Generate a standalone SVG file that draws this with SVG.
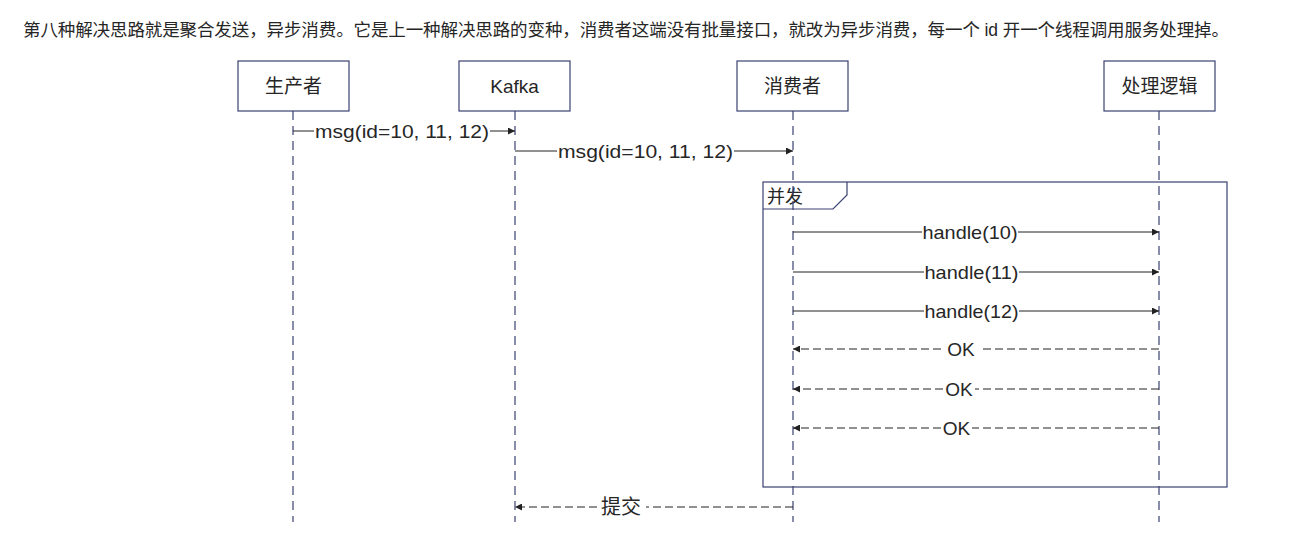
<svg xmlns="http://www.w3.org/2000/svg" width="1290" height="534" viewBox="0 0 1290 534">
<style>
.t{font-family:"Liberation Sans","Noto Sans CJK SC",sans-serif;fill:#262626;}
.box{fill:#fff;stroke:#3a4170;stroke-width:1.2;}
.life{stroke:#3a4170;stroke-width:1.2;stroke-dasharray:9 6;fill:none;}
.msg{stroke:#222;stroke-width:1;fill:none;}
.ret{stroke:#222;stroke-width:1;stroke-dasharray:8 4;fill:none;}
.lbl{font-size:19px;text-anchor:middle;}
.frame{fill:none;stroke:#3a4170;stroke-width:1.2;}
</style>
<defs>
<marker id="ah" viewBox="0 0 10 10" refX="10" refY="5" markerWidth="8" markerHeight="7" markerUnits="userSpaceOnUse" orient="auto">
<path d="M0,0 L10,5 L0,10 z" fill="#222"/>
</marker>
</defs>
<rect width="1290" height="534" fill="#fff"/>
<text class="t" x="23" y="36" font-size="17.5" textLength="1206" lengthAdjust="spacing">第八种解决思路就是聚合发送，异步消费。它是上一种解决思路的变种，消费者这端没有批量接口，就改为异步消费，每一个 id 开一个线程调用服务处理掉。</text>

<g id="frame-concurrent">
<rect class="frame" x="763" y="182" width="464" height="305"/>
<path class="frame" d="M763,209 L833,209 L847,195 L847,182"/>
<text class="t" x="767" y="203" font-size="18">并发</text>
</g>

<g id="lifelines">
<line class="life" x1="293" y1="111" x2="293" y2="522"/>
<line class="life" x1="515" y1="111" x2="515" y2="522"/>
<line class="life" x1="793" y1="111" x2="793" y2="522"/>
<line class="life" x1="1159" y1="111" x2="1159" y2="522"/>
</g>

<g id="producer">
<rect class="box" x="238" y="61" width="111" height="50"/>
<text class="t" x="293.5" y="92.5" font-size="19" text-anchor="middle">生产者</text>
</g>
<g id="kafka">
<rect class="box" x="459" y="61" width="111" height="50"/>
<text class="t" x="514.5" y="92.5" font-size="19" text-anchor="middle">Kafka</text>
</g>
<g id="consumer">
<rect class="box" x="737" y="61" width="111" height="50"/>
<text class="t" x="792.5" y="92.5" font-size="19" text-anchor="middle">消费者</text>
</g>
<g id="logic">
<rect class="box" x="1104" y="61" width="111" height="50"/>
<text class="t" x="1159.5" y="92.5" font-size="19" text-anchor="middle">处理逻辑</text>
</g>

<g id="connectors">
<line class="msg" x1="293" y1="131" x2="314" y2="131"/>
<line class="msg" x1="490" y1="131" x2="515" y2="131" marker-end="url(#ah)"/>
<text class="t lbl" x="402" y="137.5" textLength="174" lengthAdjust="spacingAndGlyphs">msg(id=10, 11, 12)</text>

<line class="msg" x1="515" y1="151" x2="557" y2="151"/>
<line class="msg" x1="734" y1="151" x2="793" y2="151" marker-end="url(#ah)"/>
<text class="t lbl" x="645.5" y="157.5" textLength="175" lengthAdjust="spacingAndGlyphs">msg(id=10, 11, 12)</text>

<line class="msg" x1="793" y1="232" x2="922" y2="232"/>
<line class="msg" x1="1018" y1="232" x2="1159" y2="232" marker-end="url(#ah)"/>
<text class="t lbl" x="970" y="238.5" textLength="95" lengthAdjust="spacingAndGlyphs">handle(10)</text>

<line class="msg" x1="793" y1="272" x2="924" y2="272"/>
<line class="msg" x1="1019" y1="272" x2="1159" y2="272" marker-end="url(#ah)"/>
<text class="t lbl" x="971.5" y="278.5" textLength="94" lengthAdjust="spacingAndGlyphs">handle(11)</text>

<line class="msg" x1="793" y1="311" x2="924" y2="311"/>
<line class="msg" x1="1019" y1="311" x2="1159" y2="311" marker-end="url(#ah)"/>
<text class="t lbl" x="971.5" y="317.5" textLength="94" lengthAdjust="spacingAndGlyphs">handle(12)</text>

<line class="ret" x1="1159" y1="349" x2="980" y2="349"/>
<line class="ret" x1="941" y1="349" x2="793" y2="349" marker-end="url(#ah)"/>
<text class="t lbl" x="961" y="355.5">OK</text>

<line class="ret" x1="1159" y1="389" x2="975" y2="389"/>
<line class="ret" x1="943" y1="389" x2="793" y2="389" marker-end="url(#ah)"/>
<text class="t lbl" x="959" y="395.5">OK</text>

<line class="ret" x1="1159" y1="428" x2="972" y2="428"/>
<line class="ret" x1="941" y1="428" x2="793" y2="428" marker-end="url(#ah)"/>
<text class="t lbl" x="956.5" y="434.5">OK</text>

<line class="ret" x1="793" y1="507" x2="646" y2="507"/>
<line class="ret" x1="597" y1="507" x2="515" y2="507" marker-end="url(#ah)"/>
<text class="t" x="621" y="514" font-size="20" text-anchor="middle">提交</text>
</g>
</svg>
